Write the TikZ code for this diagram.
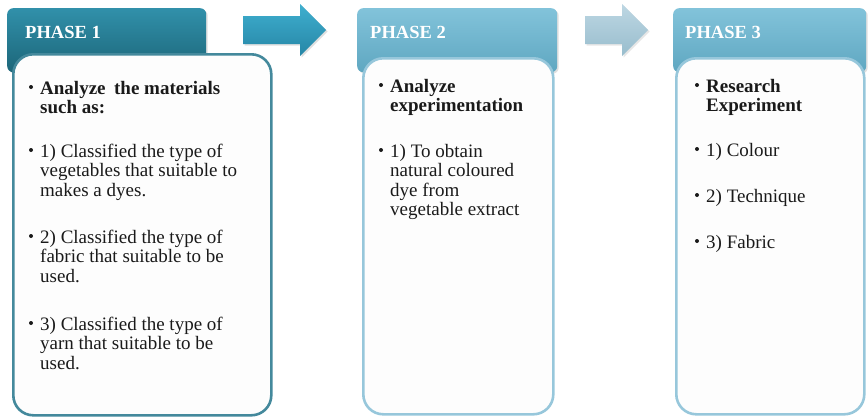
\documentclass[tikz,border=0pt]{standalone}
\usepackage{fontspec}
\setmainfont{Liberation Serif}
\usetikzlibrary{shadows}

\definecolor{tealtop}{HTML}{3190AA}
\definecolor{tealbot}{HTML}{1C6679}
\definecolor{skytop}{HTML}{82C3DA}
\definecolor{skybot}{HTML}{5FA7C1}
\definecolor{tealline}{HTML}{44899C}
\definecolor{skyline}{HTML}{97C7DB}
\definecolor{arrowtop}{HTML}{3FAFCF}
\definecolor{arrowbot}{HTML}{2686A6}
\definecolor{paletop}{HTML}{BDD7E3}
\definecolor{palebot}{HTML}{98BDCD}
\definecolor{ink}{HTML}{1A1A1A}
\definecolor{paper}{HTML}{FDFDFD}

% first-line-aligned stack of lines
\newcommand\linestack[1]{\begin{tabular}[t]{@{}l@{}}#1\end{tabular}}

\begin{document}
\begin{tikzpicture}[x=1pt,y=-1pt,
  headbox/.style={rectangle, rounded corners=6pt, inner sep=0pt,
    anchor=north west,
    drop shadow={opacity=.25, shadow xshift=1.5pt, shadow yshift=-1.5pt}},
  headdark/.style={headbox, top color=tealtop, bottom color=tealbot},
  headlight/.style={headbox, top color=skytop, bottom color=skybot},
  headtext/.style={anchor=base west, inner sep=0pt, text=white,
    font=\fontsize{18.5}{20}\selectfont\bfseries},
  bodybox/.style={rectangle, rounded corners=20pt, inner sep=0pt,
    anchor=north west, line width=2.6pt, fill=paper},
  bodydark/.style={bodybox, draw=tealline},
  bodylight/.style={bodybox, draw=skyline},
  txt/.style={anchor=base west, inner sep=0pt, text=ink,
    font=\fontsize{19}{19.5}\selectfont},
  dot/.style={circle, fill=ink, inner sep=0pt, minimum size=4pt},
]
\useasboundingbox (0,0) rectangle (868,418);

% ---------- headers ----------
\node[headdark, minimum width=199pt, minimum height=64pt] (h1) at (7,8) {};
\node[headlight, minimum width=200pt, minimum height=64pt] (h2) at (357,8) {};
\node[headlight, minimum width=193pt, minimum height=64pt] (h3) at (673,8) {};
\node[headtext] (h1t) at (25,38) {PHASE 1};
\node[headtext] (h2t) at (370,38) {PHASE 2};
\node[headtext] (h3t) at (685,38) {PHASE 3};

% ---------- bodies ----------
\node[bodydark, minimum width=258pt, minimum height=361pt] (b1) at (12,53) {};
\node[bodylight, minimum width=190pt, minimum height=356pt] (b2) at (362,57) {};
\node[bodylight, minimum width=188pt, minimum height=356pt] (b3) at (675,57) {};

% ---------- arrows ----------
\path[top color=arrowtop, bottom color=arrowbot,
      drop shadow={opacity=.25, shadow xshift=1.5pt, shadow yshift=-1.5pt}]
  (243,16) -- (300,16) -- (300,4) -- (326,30) -- (300,56) -- (300,44)
  -- (243,44) -- cycle;
\path[top color=paletop, bottom color=palebot,
      drop shadow={opacity=.2, shadow xshift=1.5pt, shadow yshift=-1.5pt}]
  (585,16) -- (622,16) -- (622,4) -- (648,30) -- (622,56) -- (622,44)
  -- (585,44) -- cycle;

% ---------- phase 1 items ----------
\node[dot] (d11) at (31,87) {};
\node[txt] (t11) at (40,94) {\linestack{\textbf{Analyze\hspace{0.2em} the materials}\\\textbf{such as:}}};
\node[dot] (d12) at (31,150) {};
\node[txt] (t12) at (40,157) {\linestack{1) Classified the type of\\vegetables that suitable to\\makes a dyes.}};
\node[dot] (d13) at (31,236) {};
\node[txt] (t13) at (40,243) {\linestack{2) Classified the type of\\fabric that suitable to be\\used.}};
\node[dot] (d14) at (31,323) {};
\node[txt] (t14) at (40,330) {\linestack{3) Classified the type of\\yarn that suitable to be\\used.}};

% ---------- phase 2 items ----------
\node[dot] (d21) at (381,85) {};
\node[txt] (t21) at (390,92) {\linestack{\textbf{Analyze}\\\textbf{experimentation}}};
\node[dot] (d22) at (381,150) {};
\node[txt] (t22) at (390,157) {\linestack{1) To obtain\\natural coloured\\dye from\\vegetable extract}};

% ---------- phase 3 items ----------
\node[dot] (d31) at (697,85) {};
\node[txt] (t31) at (706,92) {\linestack{\textbf{Research}\\\textbf{Experiment}}};
\node[dot] (d32) at (697,149) {};
\node[txt] (t32) at (706,156) {1) Colour};
\node[dot] (d33) at (697,195) {};
\node[txt] (t33) at (706,202) {2) Technique};
\node[dot] (d34) at (697,241) {};
\node[txt] (t34) at (706,248) {3) Fabric};
\end{tikzpicture}
\end{document}
